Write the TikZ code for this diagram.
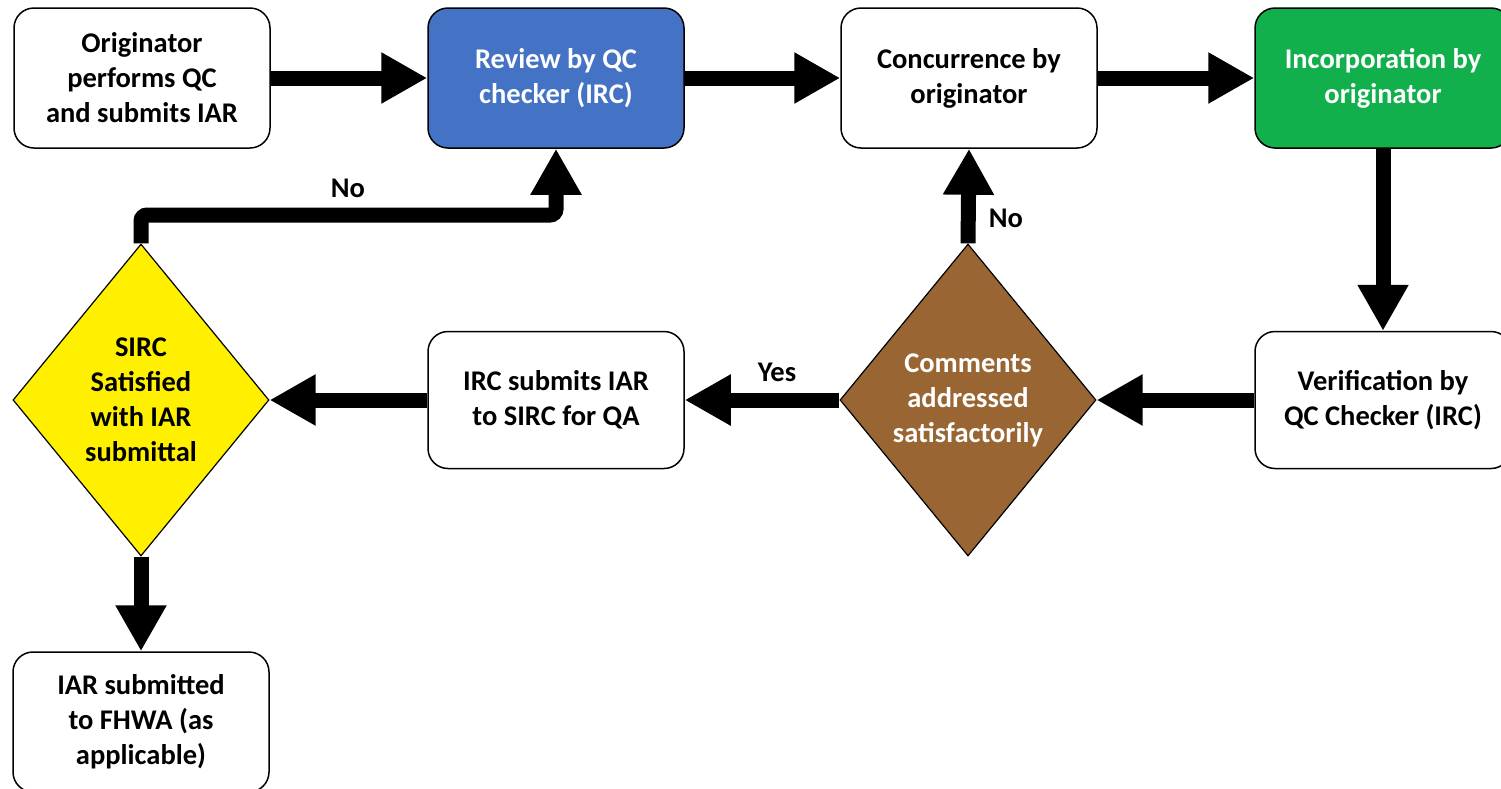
\documentclass[tikz,border=0pt]{standalone}
\usepackage{fontspec}
\setmainfont{Carlito}
\usetikzlibrary{shapes.geometric,arrows.meta}
\definecolor{qcblue}{HTML}{4472C4}
\definecolor{qcgreen}{HTML}{11B04C}
\definecolor{qcyellow}{HTML}{FFF000}
\definecolor{qcbrown}{HTML}{996633}
\tikzset{
  lbl/.style={font=\fontsize{28.5}{35}\selectfont\bfseries, align=center},
  procbox/.style={lbl, draw=black, line width=1.5pt, rounded corners=20pt,
    minimum width=256pt, minimum height=140pt, inner sep=0pt},
  decision/.style={draw=black, line width=1.2pt, diamond, aspect=0.826,
    minimum width=256pt, minimum height=312pt, inner sep=0pt},
  flow/.style={line width=15pt, line cap=butt,
    -{Triangle[length=46pt,width=48pt]}},
}
\begin{document}
\begin{tikzpicture}[x=1pt,y=-1pt]
\clip (0,0) rectangle (1501,788);
\fill[white] (0,0) rectangle (1501,788);

% process steps
\node[procbox] (orig) at (142,78) {Originator\\performs QC\\and submits IAR};
\node[procbox, fill=qcblue, text=white] (review) at (556,78) {Review by QC\\checker (IRC)};
\node[procbox] (concur) at (969,78) {Concurrence by\\originator};
\node[procbox, fill=qcgreen, text=white] (incorp) at (1383,78) {Incorporation by\\originator};
\node[procbox, minimum height=137pt] (verif) at (1383,400) {Verification by\\QC Checker (IRC)};
\node[procbox, minimum height=137pt] (irc) at (556,400) {IRC submits IAR\\to SIRC for QA};
\node[procbox] (final) at (141,722) {IAR submitted\\to FHWA (as\\applicable)};

% decisions
\node[decision, fill=qcbrown] (comm) at (968,400) {};
\node[lbl, text=white] (commtxt) at (comm) {Comments\\addressed\\satisfactorily};
\node[decision, fill=qcyellow] (sirc) at (141,400) {};
\node[lbl] (sirctxt) at (sirc) {SIRC\\Satisfied\\with IAR\\submittal};

% connectors
\draw[flow] (orig.east) -- (review.west);
\draw[flow] (review.east) -- (concur.west);
\draw[flow] (concur.east) -- (incorp.west);
\draw[flow] (incorp.south) -- (verif.north);
\draw[flow] (verif.west) -- (comm.east);
\draw[flow] (comm.west) -- (irc.east);
\draw[flow] (irc.west) -- (sirc.east);
\draw[flow] (sirc.south) -- (final.north);
\draw[flow] (comm.north) -- (concur.south);
\coordinate (elbow) at (556,215);
\draw[flow, rounded corners=6pt] (sirc.north) |- (elbow) -- (review.south);

% branch labels
\node[lbl] (nolft) at (348,188) {No};
\node[lbl] (norgt) at (1006,218) {No};
\node[lbl] (yes) at (777,372) {Yes};
\end{tikzpicture}
\end{document}
